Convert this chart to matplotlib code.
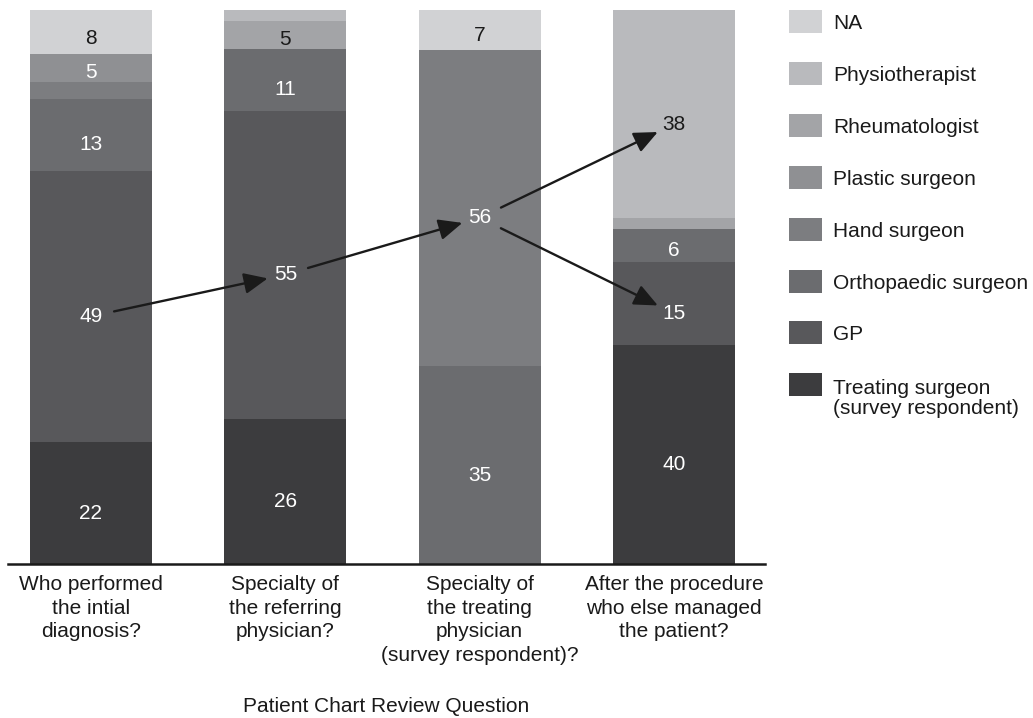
import numpy as np
import matplotlib
matplotlib.use("Agg")
import matplotlib.pyplot as plt
from matplotlib.patches import Rectangle

plt.rcParams['font.family'] = ['Liberation Sans', 'DejaVu Sans']

# ---------------- data ----------------
questions = ["Who performed\nthe intial\ndiagnosis?",
             "Specialty of\nthe referring\nphysician?",
             "Specialty of\nthe treating\nphysician\n(survey respondent)?",
             "After the procedure\nwho else managed\nthe patient?"]

# legend order (top to bottom)
specialties = ["NA", "Physiotherapist", "Rheumatologist", "Plastic surgeon",
               "Hand surgeon", "Orthopaedic surgeon", "GP",
               "Treating surgeon\n(survey respondent)"]
colors = ["#d1d2d4", "#b9babd", "#a3a4a7", "#8f9093",
          "#7c7d80", "#6b6c6f", "#58585b", "#3c3c3e"]

na        = [8, 0, 7, 0]
physio    = [0, 2, 0, 38]
rheum     = [0, 5, 0, 2]
plastic   = [5, 0, 0, 0]
hand      = [3, 0, 56, 0]
ortho     = [13, 11, 35, 6]
gp        = [49, 55, 0, 15]
treating  = [22, 26, 0, 40]

series = [na, physio, rheum, plastic, hand, ortho, gp, treating]

# ---------------- figure ----------------
W, H = 1033, 718
fig = plt.figure(figsize=(W / 100, H / 100), dpi=100)
ax = fig.add_axes([8 / W, 1 - 564 / H, (765 - 8) / W, (564 - 10) / H])

vals = np.array(series, dtype=float)          # rows: specialties (top->bottom)
totals = vals.sum(axis=0)
pct = vals / totals * 100

x = np.arange(len(questions))
width = 0.627
bottom = np.zeros(len(questions))
label_pos = {}
# stack bottom-to-top: reverse order of legend
for i in range(len(specialties) - 1, -1, -1):
    h = pct[i]
    ax.bar(x, h, width=width, bottom=bottom, color=colors[i], edgecolor='none',
           linewidth=0, zorder=2)
    lum = int(colors[i][1:3], 16)
    tc = 'white' if lum < 0x99 else '#1a1a1a'
    for j in range(len(questions)):
        if vals[i, j] >= 5:
            yc = bottom[j] + h[j] / 2 - min(1.8, 0.15 * h[j])
            ax.text(x[j], yc, f"{int(vals[i, j])}", ha='center', va='center',
                    fontsize=15, color=tc, zorder=4)
            label_pos[(i, j)] = (x[j], yc)
    bottom = bottom + h

# arrows between labels
arrow_pairs = [((6, 0), (6, 1)), ((6, 1), (4, 2)), ((4, 2), (1, 3)), ((4, 2), (6, 3))]
for a, b in arrow_pairs:
    ax.annotate("", xy=label_pos[b], xytext=label_pos[a],
                arrowprops=dict(arrowstyle="-|>,head_length=0.9,head_width=0.4",
                                color="#1a1a1a", lw=1.7, shrinkA=17, shrinkB=13,
                                mutation_scale=16),
                zorder=5)

ax.set_xlim(-0.427, 3.468)
ax.set_ylim(0, 100)
for s in ['top', 'right', 'left']:
    ax.spines[s].set_visible(False)
ax.spines['bottom'].set_linewidth(1.8)
ax.spines['bottom'].set_color('#1a1a1a')
ax.set_yticks([])
ax.set_xticks(x)
ax.set_xticklabels(questions, fontsize=15, color='#1a1a1a', linespacing=1.3)
ax.tick_params(axis='x', length=0, pad=8)
ax.set_xlabel("Patient Chart Review Question", fontsize=15, color='#1a1a1a')
ax.xaxis.set_label_coords(0.5, -0.24)

# ---------------- legend (drawn manually) ----------------
px_w, px_h = 1 / W, 1 / H
patch_x0, patch_x1 = 789, 822
patch_h = 23
spacing = 51.9
for i, name in enumerate(specialties):
    top = 10 + spacing * i
    fig.add_artist(Rectangle((patch_x0 * px_w, 1 - (top + patch_h) * px_h),
                             (patch_x1 - patch_x0) * px_w, patch_h * px_h,
                             transform=fig.transFigure, facecolor=colors[i],
                             edgecolor='none'))
    yc = top + patch_h / 2 + 2
    if "\n" in name:
        fig.text(833 * px_w, 1 - (yc - 8) * px_h, name, ha='left', va='top',
                 fontsize=15, color='#1a1a1a', linespacing=1.1)
    else:
        fig.text(833 * px_w, 1 - yc * px_h, name, ha='left', va='center',
                 fontsize=15, color='#1a1a1a')

fig.savefig("out.png", dpi=100)
